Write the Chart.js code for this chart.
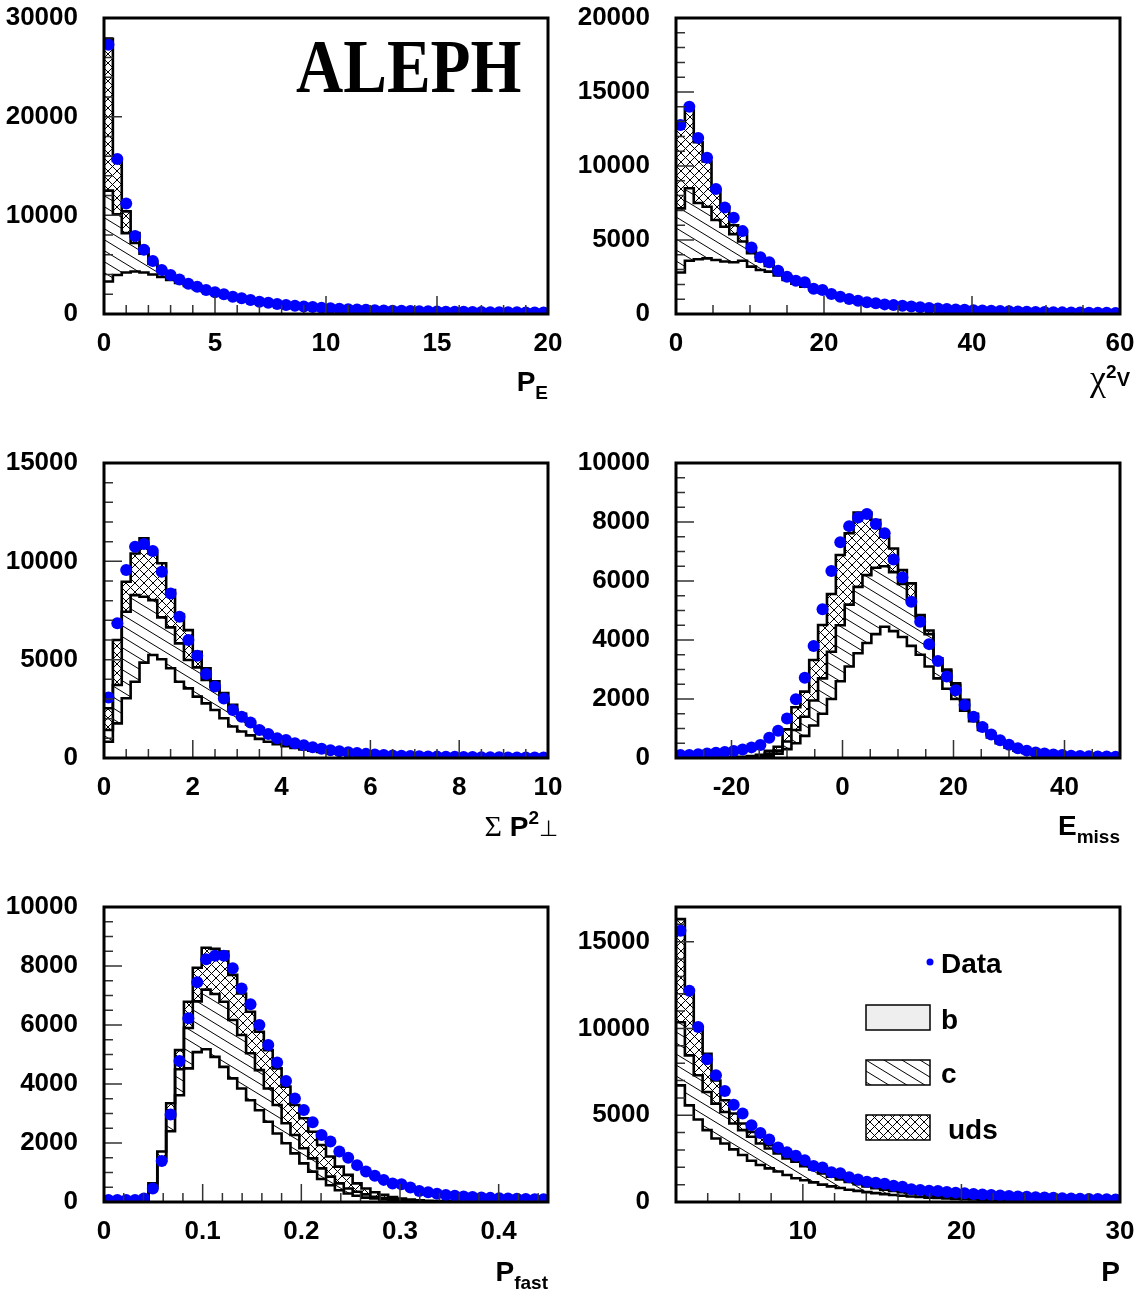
<!DOCTYPE html>
<html>
<head>
<meta charset="utf-8">
<script src="https://cdn.jsdelivr.net/npm/chart.js@4.4.1/dist/chart.umd.min.js"></script>
<style>
  body { margin: 0; background: #fff; }
  #page { position: relative; width: 1146px; height: 1297px; overflow: hidden; }
  #page canvas { position: absolute; }
  .ttl { position: absolute; font: bold 28px 'Liberation Sans Narrow', 'Liberation Sans', sans-serif; line-height: 28px; white-space: nowrap; color: #000; }
  .sb { font-size: 19px; position: relative; top: 8px; }
  .sp { font-size: 19px; position: relative; top: -12px; }
  .gk { font-family: 'Liberation Serif', serif; font-weight: normal; font-size: 30px; }
  .aleph { position: absolute; left: 296px; top: 28px; font: bold 77px 'Liberation Serif', 'Times New Roman', serif; line-height: 77px; transform: scaleX(0.85); transform-origin: left top; }
</style>
</head>
<body>
<div id="page">
  <canvas id="c0" width="573" height="430" style="left:0;top:0"></canvas>
  <canvas id="c1" width="573" height="430" style="left:573px;top:0"></canvas>
  <canvas id="c2" width="573" height="440" style="left:0;top:430px"></canvas>
  <canvas id="c3" width="573" height="440" style="left:573px;top:430px"></canvas>
  <canvas id="c4" width="573" height="427" style="left:0;top:870px"></canvas>
  <canvas id="c5" width="573" height="427" style="left:573px;top:870px"></canvas>

  <div class="aleph">ALEPH</div>
  <div class="ttl" style="right:598px;top:368px">P<span class="sb">E</span></div>
  <div class="ttl" style="right:16px;top:364px"><span class="gk" style="font-size:36px">χ</span><span class="sp">2</span><span style="font-size:20px;position:relative;top:-4px">V</span></div>
  <div class="ttl" style="right:588px;top:812px"><span class="gk">Σ</span> P<span class="sp">2</span><span class="gk" style="font-size:22px">⊥</span></div>
  <div class="ttl" style="right:26px;top:812px">E<span class="sb">miss</span></div>
  <div class="ttl" style="right:598px;top:1258px">P<span class="sb">fast</span></div>
  <div class="ttl" style="right:26px;top:1258px">P</div>
</div>
<script>
const NBINS = 50;

// P_E
const peRange = [0, 20];
const peB = [3300, 3950, 4200, 4300, 4200, 4000, 3750, 3450, 3150, 2850, 2550, 2300, 2080, 1880, 1680, 1520, 1350, 1200, 1100, 960, 870, 790, 720, 660, 600, 545, 495, 455, 415, 385, 355, 325, 300, 280, 260, 240, 225, 210, 195, 182, 170, 160, 150, 140, 132, 124, 117, 110, 104, 98];
const peC = [9200, 6150, 4000, 2900, 1900, 1100, 600, 350, 250, 150, 150, 100, 90, 80, 60, 50, 50, 40, 30, 30, 25, 25, 25, 20, 20, 20, 20, 17, 17, 15, 13, 13, 12, 10, 10, 10, 9, 8, 8, 8, 8, 7, 6, 6, 6, 6, 5, 5, 5, 5];
const peUds = [15400, 5400, 2200, 1000, 500, 200, 100, 100, 60, 50, 40, 30, 30, 30, 20, 20, 20, 15, 15, 10, 10, 10, 10, 10, 10, 10, 7, 8, 8, 7, 7, 7, 6, 6, 6, 5, 5, 5, 5, 5, 5, 4, 4, 4, 4, 4, 4, 4, 3, 3];
const peData = [27300, 15700, 11200, 7900, 6500, 5370, 4460, 3950, 3500, 3070, 2770, 2430, 2200, 2000, 1760, 1590, 1420, 1250, 1150, 1010, 910, 830, 760, 700, 640, 580, 530, 490, 450, 420, 390, 360, 340, 320, 300, 280, 270, 250, 240, 230, 220, 210, 200, 190, 180, 180, 170, 160, 160, 150];
const peTicksX = [0, 5, 10, 15, 20];
const peTicksY = [0, 10000, 20000, 30000];

// chi2 V
const chiRange = [0, 60];
const chiB = [2800, 3600, 3700, 3760, 3650, 3550, 3500, 3600, 3200, 2970, 2860, 2600, 2300, 2050, 1850, 1620, 1450, 1280, 1120, 990, 870, 770, 680, 600, 530, 470, 415, 368, 326, 290, 257, 228, 203, 180, 160, 142, 127, 113, 101, 90, 80, 71, 64, 57, 51, 45, 40, 36, 32, 28];
const chiC = [4340, 4900, 3800, 3490, 2700, 2350, 1900, 1300, 900, 630, 390, 200, 150, 120, 110, 90, 80, 70, 60, 55, 50, 45, 40, 35, 30, 27, 25, 22, 19, 17, 15, 14, 12, 11, 10, 9, 8, 7, 6, 6, 5, 5, 4, 4, 3, 3, 3, 2, 2, 2];
const chiUds = [5860, 5300, 4100, 3050, 2050, 1350, 600, 550, 350, 250, 200, 150, 100, 70, 60, 50, 45, 40, 35, 30, 25, 23, 20, 17, 15, 13, 12, 10, 10, 8, 8, 7, 6, 6, 5, 5, 4, 4, 3, 3, 3, 3, 2, 2, 2, 2, 2, 2, 2, 2];
const chiData = [12770, 14000, 11900, 10560, 8450, 7200, 6500, 5600, 4500, 3830, 3490, 2930, 2520, 2250, 2140, 1710, 1620, 1350, 1170, 1010, 900, 790, 720, 650, 600, 550, 500, 450, 410, 370, 340, 310, 280, 260, 240, 220, 200, 180, 170, 150, 140, 130, 120, 110, 100, 100, 90, 80, 80, 70];
const chiTicksX = [0, 20, 40, 60];
const chiTicksY = [0, 5000, 10000, 15000, 20000];

// sum Pt^2
const ptRange = [0, 10];
const ptB = [830, 1760, 3040, 3880, 4850, 5240, 5020, 4560, 3880, 3540, 3120, 2780, 2440, 2020, 1600, 1350, 1150, 970, 830, 700, 600, 510, 430, 365, 310, 260, 220, 185, 155, 130, 110, 92, 77, 65, 54, 45, 38, 32, 27, 22, 18, 15, 13, 11, 9, 8, 6, 5, 4, 4];
const ptC = [590, 1950, 4400, 4400, 3350, 2790, 2130, 2080, 1950, 1440, 1490, 1190, 1180, 980, 850, 700, 550, 430, 350, 290, 230, 190, 160, 130, 105, 90, 75, 63, 53, 45, 37, 31, 26, 21, 18, 15, 12, 10, 8, 7, 6, 5, 4, 3, 3, 2, 2, 2, 2, 1];
const ptUds = [1110, 2290, 1520, 2120, 2970, 2370, 2750, 1900, 1470, 1520, 790, 590, 280, 300, 250, 200, 150, 120, 90, 70, 60, 50, 40, 35, 30, 25, 20, 17, 15, 13, 11, 9, 8, 7, 6, 5, 4, 3, 3, 3, 3, 3, 2, 2, 2, 2, 2, 1, 1, 1];
const ptData = [3080, 6850, 9560, 10740, 10880, 10520, 9470, 8370, 7180, 6000, 5200, 4270, 3630, 3030, 2440, 2100, 1800, 1420, 1220, 1000, 920, 750, 650, 550, 470, 400, 340, 290, 250, 210, 180, 150, 130, 110, 100, 90, 80, 70, 60, 60, 50, 50, 40, 40, 40, 30, 30, 30, 30, 20];
const ptTicksX = [0, 2, 4, 6, 8, 10];
const ptTicksY = [0, 5000, 10000, 15000];

// E miss
const emRange = [-30, 50];
const emB = [0, 0, 0, 0, 0, 0, 3, 8, 15, 30, 80, 150, 300, 500, 750, 1100, 1500, 2000, 2600, 3100, 3550, 3900, 4200, 4450, 4300, 4100, 3800, 3500, 3100, 2700, 2350, 2000, 1600, 1250, 950, 700, 500, 350, 250, 170, 120, 85, 60, 42, 30, 21, 15, 10, 7, 5];
const emC = [0, 0, 0, 0, 0, 3, 5, 10, 20, 30, 70, 100, 260, 450, 650, 850, 1200, 1600, 1900, 2100, 2250, 2300, 2250, 2050, 2000, 1800, 1600, 1250, 1100, 600, 600, 480, 330, 220, 150, 100, 80, 70, 50, 40, 30, 20, 15, 10, 7, 5, 3, 3, 2, 1];
const emUds = [0, 0, 0, 0, 5, 7, 12, 22, 35, 50, 90, 130, 410, 770, 850, 1370, 1810, 1960, 2380, 2420, 2520, 2120, 1620, 1000, 800, 470, 520, 100, 120, 80, 50, 50, 40, 30, 20, 20, 20, 10, 10, 10, 10, 7, 5, 4, 3, 2, 2, 1, 1, 1];
const emData = [100, 100, 130, 150, 180, 200, 240, 290, 360, 440, 690, 920, 1340, 1990, 2720, 3800, 5040, 6340, 7310, 7860, 8150, 8270, 7930, 7620, 6730, 6120, 5300, 4620, 3860, 3290, 2760, 2300, 1800, 1400, 1050, 800, 600, 450, 330, 250, 190, 150, 120, 100, 80, 70, 60, 50, 50, 40];
const emTicksX = [-20, 0, 20, 40];
const emTicksY = [0, 2000, 4000, 6000, 8000, 10000];

// P fast
const pfRange = [0, 0.45];
const pfB = [0, 0, 0, 0, 0, 500, 1400, 2400, 3620, 4530, 5080, 5180, 4920, 4580, 4190, 3850, 3450, 3110, 2720, 2320, 1990, 1650, 1310, 1030, 780, 570, 400, 290, 210, 150, 120, 90, 65, 50, 35, 25, 18, 13, 9, 6, 4, 3, 2, 1, 1, 0, 0, 0, 0, 0];
const pfC = [0, 0, 0, 0, 0, 50, 100, 500, 880, 1370, 1720, 2020, 2130, 2210, 1980, 1810, 1590, 1360, 1130, 970, 680, 620, 510, 450, 360, 290, 230, 170, 140, 110, 60, 40, 30, 20, 15, 11, 8, 5, 4, 3, 2, 1, 1, 1, 0, 1, 0, 0, 0, 0];
const pfUds = [0, 0, 0, 0, 10, 80, 210, 450, 650, 890, 1140, 1420, 1530, 1700, 1530, 1410, 1410, 1300, 1300, 1240, 1240, 1020, 1020, 900, 790, 680, 570, 460, 280, 200, 150, 110, 75, 50, 35, 24, 16, 12, 8, 6, 4, 3, 2, 1, 1, 0, 1, 0, 0, 0];
const pfData = [70, 70, 70, 70, 120, 460, 1390, 2970, 4780, 6230, 7450, 8230, 8350, 8350, 7920, 7240, 6700, 6000, 5320, 4730, 4100, 3510, 3120, 2700, 2270, 2050, 1710, 1500, 1250, 1030, 890, 750, 630, 600, 490, 370, 330, 280, 240, 210, 190, 170, 150, 140, 130, 120, 110, 100, 90, 90];
const pfTicksX = [0, 0.1, 0.2, 0.3, 0.4];
const pfTicksY = [0, 2000, 4000, 6000, 8000, 10000];

// P
const pRange = [2, 30];
const pB = [6720, 5570, 4750, 4140, 3660, 3370, 3030, 2710, 2380, 2130, 1940, 1760, 1560, 1370, 1250, 1130, 1000, 900, 810, 710, 640, 570, 510, 455, 405, 360, 320, 285, 255, 228, 203, 181, 161, 143, 128, 114, 101, 90, 80, 71, 64, 57, 50, 45, 40, 36, 32, 28, 25, 22];
const pC = [3640, 2880, 2550, 2200, 2010, 1820, 1490, 1430, 1380, 1240, 1140, 1040, 950, 950, 820, 750, 650, 560, 490, 440, 380, 330, 290, 255, 225, 200, 180, 160, 140, 124, 110, 98, 87, 78, 69, 61, 55, 49, 44, 39, 34, 30, 28, 24, 22, 19, 17, 15, 14, 12];
const pUds = [5940, 3550, 2680, 2200, 1330, 670, 580, 380, 280, 390, 200, 200, 200, 140, 170, 150, 150, 140, 120, 110, 100, 90, 80, 70, 60, 55, 48, 43, 39, 34, 31, 27, 24, 21, 19, 17, 15, 13, 12, 11, 10, 9, 7, 7, 6, 5, 5, 5, 4, 4];
const pData = [15630, 12180, 10080, 8220, 7300, 6400, 5610, 5100, 4430, 3980, 3600, 3140, 2860, 2660, 2410, 2070, 1990, 1710, 1650, 1420, 1300, 1170, 1110, 1050, 940, 880, 730, 690, 650, 630, 580, 540, 500, 460, 430, 400, 370, 350, 320, 300, 280, 260, 240, 220, 200, 190, 180, 170, 160, 150];
const pTicksX = [10, 20, 30];
const pTicksY = [0, 5000, 10000, 15000];

const legendLabels = ['Data', 'b', 'c', 'uds'];

// layout of the 2x3 grid (canvas-local pixels)
const cols = [{yW: 104, padR: 25}, {yW: 103, padR: 26}];
const rows = [{padT: 18, xH: 116}, {padT: 33, xH: 112}, {padT: 37, xH: 95}];

const panels = {
  c0: {col: 0, row: 0, range: peRange, yMax: 30000, b: peB, c: peC, uds: peUds, data: peData, tx: peTicksX, ty: peTicksY, xMinor: 1, yMinor: 2000},
  c1: {col: 1, row: 0, range: chiRange, yMax: 20000, b: chiB, c: chiC, uds: chiUds, data: chiData, tx: chiTicksX, ty: chiTicksY, xMinor: 5, yMinor: 1000},
  c2: {col: 0, row: 1, range: ptRange, yMax: 15000, b: ptB, c: ptC, uds: ptUds, data: ptData, tx: ptTicksX, ty: ptTicksY, xMinor: 0.5, yMinor: 1000},
  c3: {col: 1, row: 1, range: emRange, yMax: 10000, b: emB, c: emC, uds: emUds, data: emData, tx: emTicksX, ty: emTicksY, xMinor: 5, yMinor: 500},
  c4: {col: 0, row: 2, range: pfRange, yMax: 10000, b: pfB, c: pfC, uds: pfUds, data: pfData, tx: pfTicksX, ty: pfTicksY, xMinor: 0.02, yMinor: 500},
  c5: {col: 1, row: 2, range: pRange, yMax: 17000, b: pB, c: pC, uds: pUds, data: pData, tx: pTicksX, ty: pTicksY, xMinor: 2, yMinor: 1000, legend: true}
};

const FONT = "'Liberation Sans Narrow', 'Liberation Sans', sans-serif";
const tickFont = {family: FONT, size: 26, weight: 'bold'};

function tile(w, h, draw) {
  const cv = document.createElement('canvas');
  cv.width = w; cv.height = h;
  const g = cv.getContext('2d');
  g.strokeStyle = '#000';
  g.lineWidth = 1;
  g.beginPath();
  draw(g, w, h);
  g.stroke();
  return cv;
}
// single hatch "\\" for c, cross hatch for uds
const hatchTile = tile(18, 11, (g, w, h) => {
  for (const k of [-1, 0, 1]) { g.moveTo(k * w - w / 2, -h / 2); g.lineTo((k + 1) * w + w / 2, h + h / 2); }
});
const crossTile = tile(9, 9, (g, w, h) => {
  for (const k of [-1, 0, 1]) {
    g.moveTo(k * w - w, -h); g.lineTo(k * w + 2 * w, 2 * h);
    g.moveTo(k * w - w, 2 * h); g.lineTo(k * w + 2 * w, -h);
  }
});

const frameTicks = {
  id: 'frameTicks',
  afterDraw(chart) {
    const p = panels[chart.canvas.id];
    const {ctx, chartArea: a} = chart;
    const xs = chart.scales.x, ys = chart.scales.y;
    const marks = (scale, step, majors) => {
      const n = Math.floor((scale.max - scale.min) / step + 1e-6);
      const out = [];
      for (let k = 0; k <= n; k++) {
        const v = scale.min + k * step;
        out.push({px: scale.getPixelForValue(v), major: majors.some(m => Math.abs(m - v) < step / 100)});
      }
      return out;
    };
    ctx.save();
    ctx.strokeStyle = '#333';
    ctx.lineWidth = 1.5;
    ctx.beginPath();
    marks(xs, p.xMinor, p.tx).forEach(t => {
      ctx.moveTo(t.px, a.bottom);
      ctx.lineTo(t.px, a.bottom - (t.major ? 18 : 9));
    });
    marks(ys, p.yMinor, p.ty).forEach(t => {
      ctx.moveTo(a.left, t.px);
      ctx.lineTo(a.left + (t.major ? 18 : 9), t.px);
    });
    ctx.stroke();
    ctx.strokeStyle = '#000';
    ctx.lineWidth = 3;
    ctx.strokeRect(a.left, a.top, a.right - a.left, a.bottom - a.top);
    ctx.restore();
  }
};

const boxLegend = {
  id: 'boxLegend',
  afterDraw(chart) {
    if (!panels[chart.canvas.id].legend) return;
    const ctx = chart.ctx;
    ctx.save();
    ctx.fillStyle = '#0000ff';
    ctx.beginPath();
    ctx.arc(357, 92, 3.5, 0, Math.PI * 2);
    ctx.fill();
    const boxes = [
      {y: 135, fill: '#eeeeee'},
      {y: 190, fill: ctx.createPattern(hatchTile, 'repeat')},
      {y: 245, fill: ctx.createPattern(crossTile, 'repeat')}
    ];
    boxes.forEach(bx => {
      ctx.fillStyle = '#fff';
      ctx.fillRect(293, bx.y, 64, 25);
      ctx.fillStyle = bx.fill;
      ctx.fillRect(293, bx.y, 64, 25);
      ctx.strokeStyle = '#000';
      ctx.lineWidth = 1.5;
      ctx.strokeRect(293, bx.y, 64, 25);
    });
    ctx.fillStyle = '#000';
    ctx.font = 'bold 28px ' + FONT;
    ctx.textBaseline = 'alphabetic';
    ctx.fillText(legendLabels[0], 368, 103);
    ctx.fillText(legendLabels[1], 368, 159);
    ctx.fillText(legendLabels[2], 368, 213);
    ctx.fillText(legendLabels[3], 375, 269);
    ctx.restore();
  }
};

function buildChart(id) {
  const p = panels[id];
  const col = cols[p.col], row = rows[p.row];
  const ctx = document.getElementById(id).getContext('2d');
  const w = (p.range[1] - p.range[0]) / NBINS;
  const edgePts = vals => vals.concat([vals[vals.length - 1]]).map((y, i) => ({x: p.range[0] + i * w, y}));
  const centerPts = vals => vals.map((y, i) => ({x: p.range[0] + (i + 0.5) * w, y}));
  const hist = (label, vals, fill, bg) => ({
    type: 'line', label, data: edgePts(vals), stepped: true,
    borderColor: '#000', borderWidth: 2.6, pointRadius: 0, fill, backgroundColor: bg
  });
  return new Chart(ctx, {
    type: 'line',
    data: {
      datasets: [
        hist('b', p.b, false, 'rgba(0,0,0,0)'),
        hist('c', p.c, '-1', ctx.createPattern(hatchTile, 'repeat')),
        hist('uds', p.uds, '-1', ctx.createPattern(crossTile, 'repeat')),
        {
          type: 'line', label: 'Data', data: centerPts(p.data), showLine: false, stack: 'pts', order: -1,
          pointRadius: 6, pointHoverRadius: 6, pointBackgroundColor: '#0000ff', pointBorderWidth: 0, fill: false
        }
      ]
    },
    options: {
      responsive: false,
      animation: false,
      devicePixelRatio: 1,
      events: [],
      layout: {padding: {left: 0, right: col.padR, top: row.padT, bottom: 0}},
      plugins: {legend: {display: false}, tooltip: {enabled: false}},
      scales: {
        x: {
          type: 'linear', min: p.range[0], max: p.range[1],
          grid: {display: false, drawTicks: false}, border: {display: false},
          ticks: {autoSkip: false, maxRotation: 0, padding: 14, color: '#000', font: tickFont, callback: v => String(v)},
          afterBuildTicks: s => { s.ticks = p.tx.map(value => ({value})); },
          afterFit: s => { s.height = row.xH; s.paddingLeft = 0; s.paddingRight = 0; }
        },
        y: {
          type: 'linear', stacked: true, min: 0, max: p.yMax,
          grid: {display: false, drawTicks: false}, border: {display: false},
          ticks: {autoSkip: false, padding: 26, color: '#000', font: tickFont, callback: v => String(v)},
          afterBuildTicks: s => { s.ticks = p.ty.map(value => ({value})); },
          afterFit: s => { s.width = col.yW; s.paddingTop = 0; s.paddingBottom = 0; }
        }
      }
    },
    plugins: [frameTicks, boxLegend]
  });
}

Object.keys(panels).forEach(buildChart);
</script>
</body>
</html>
